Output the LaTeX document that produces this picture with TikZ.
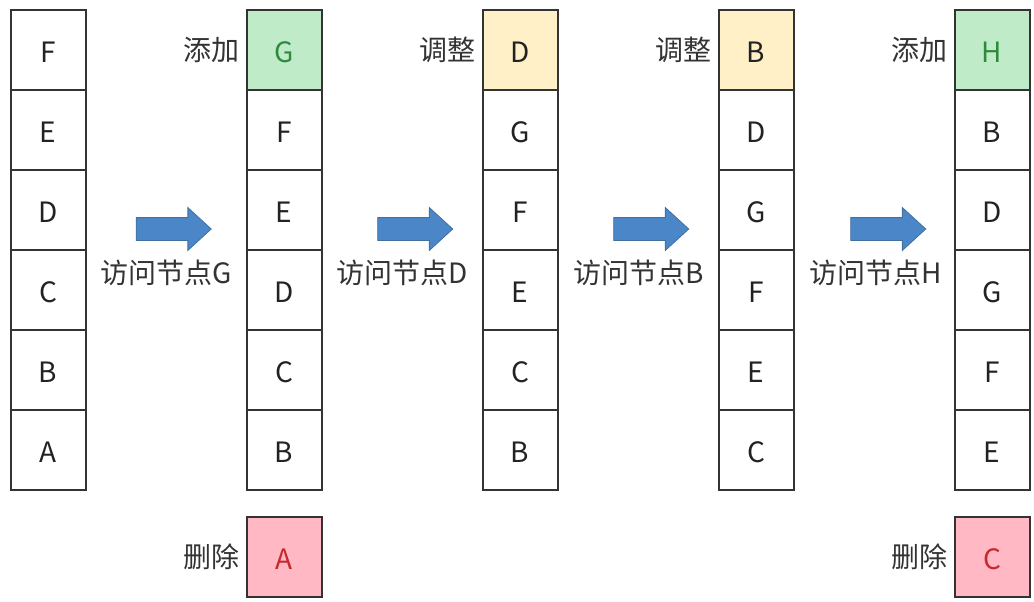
\documentclass[tikz,border=0pt]{standalone}
\usepackage{fontspec}
\setmainfont{Noto Sans CJK SC}
\usepackage{xcolor}
\usepackage{tikz}
\usetikzlibrary{positioning,shapes.arrows}

\definecolor{cellline}{HTML}{333333}
\definecolor{celltext}{HTML}{222222}
\definecolor{addfill}{HTML}{C0EBC9}
\definecolor{addtext}{HTML}{2E8B3E}
\definecolor{movefill}{HTML}{FFF0C8}
\definecolor{delfill}{HTML}{FFB8C4}
\definecolor{deltext}{HTML}{C8282C}
\definecolor{flowfill}{HTML}{4A86C8}
\definecolor{flowline}{HTML}{41719C}

\begin{document}
\begin{tikzpicture}[x=1pt,y=-1pt]
    \tikzset{
      cell/.style={draw=cellline, line width=2pt, minimum width=75pt, minimum height=80pt,
        inner sep=0pt, text=celltext, font=\fontsize{28}{32}\selectfont,
        text height=25pt, text depth=0pt},
      plain/.style={},
      add/.style={fill=addfill, text=addtext},
      move/.style={fill=movefill},
      del/.style={fill=delfill, text=deltext},
      sidelabel/.style={text=cellline, inner sep=0pt, font=\fontsize{28}{32}\selectfont,
        text height=23pt, text depth=2pt},
      steplabel/.style={sidelabel},
      flow/.style={single arrow, draw=flowline, fill=flowfill, line width=0.8pt,
        minimum height=75pt, single arrow head extend=10pt,
        single arrow tip angle=85, inner xsep=0pt, inner ysep=11pt}
    }
    \useasboundingbox (0,0) rectangle (1034,602);
    % the five states of the cache
    \foreach \col/\xc/\letters in {1/48/{F/plain,E/plain,D/plain,C/plain,B/plain,A/plain},
        2/284/{G/add,F/plain,E/plain,D/plain,C/plain,B/plain},
        3/520/{D/move,G/plain,F/plain,E/plain,C/plain,B/plain},
        4/756/{B/move,D/plain,G/plain,F/plain,E/plain,C/plain},
        5/992/{H/add,B/plain,D/plain,G/plain,F/plain,E/plain}}{
      \foreach \l/\st [count=\r] in \letters {
        \node [cell,\st] (c\col r\r) at ({\xc},{80*\r-30}) {\l};
      }
    }
    % dropped entries
    \node [cell,del] (c2x) at (284,557) {A};
    \node [cell,del] (c5x) at (992,557) {C};
    \node [sidelabel, left=6pt of c2r1] (add2) {添加};
    \node [sidelabel, left=6pt of c3r1] (move3) {调整};
    \node [sidelabel, left=6pt of c4r1] (move4) {调整};
    \node [sidelabel, left=6pt of c5r1] (add5) {添加};
    \node [sidelabel, left=6pt of c2x] (del2) {删除};
    \node [sidelabel, left=6pt of c5x] (del5) {删除};
    % steps
    \node [flow] (f1) at (167.5,229) {};
    \node [flow] (f2) at (409,229) {};
    \node [flow] (f3) at (645,229) {};
    \node [flow] (f4) at (882,229) {};
    \node [steplabel] (s1) at (166,273) {访问节点G};
    \node [steplabel] (s2) at (402,273) {访问节点D};
    \node [steplabel] (s3) at (639,273) {访问节点B};
    \node [steplabel] (s4) at (876,273) {访问节点H};
\end{tikzpicture}
\end{document}
